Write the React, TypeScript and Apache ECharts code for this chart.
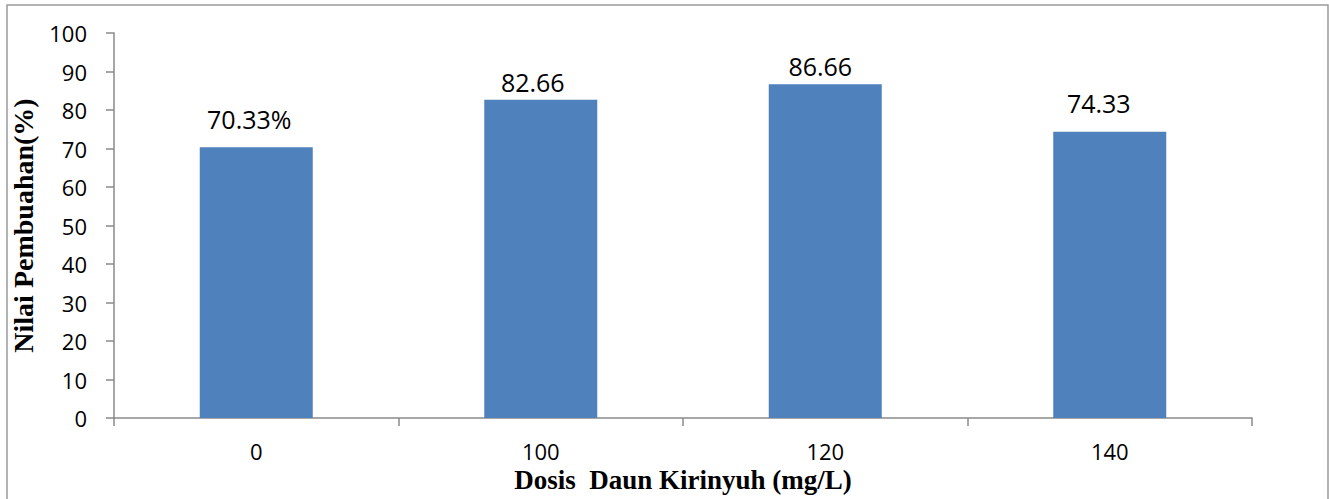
import React, { useEffect, useRef } from "react";
import * as echarts from "echarts";

const categories = ["0", "100", "120", "140"];
const values = [70.33, 82.66, 86.66, 74.33];
const labelTexts = ["70.33%", "82.66", "86.66", "74.33"];
const labelDistances = [16, 5, 6, 16];
const labelShiftX = [-7, -8, -5, -11];
const yTicks = { min: 0, max: 100, interval: 10 };
const xTitle = "Dosis  Daun Kirinyuh (mg/L)";
const yTitle = "Nilai Pembuahan(%)";

const sans = "'Open Sans', 'Noto Sans', sans-serif";
const serif = "'Liberation Serif', 'Times New Roman', serif";
const axisGray = "#8a8a8a";

export default function App() {
  const ref = useRef<HTMLDivElement>(null);
  useEffect(() => {
    if (!ref.current) return;
    const chart = echarts.init(ref.current, undefined, { renderer: "svg" });
    chart.setOption({
      animation: false,
      backgroundColor: "#ffffff",
      graphic: [
        {
          type: "rect",
          shape: { x: 7, y: 5, width: 1321, height: 520 },
          style: { fill: "none", stroke: "#9a9a9a", lineWidth: 1.5 },
          silent: true,
          z: -1,
        },
      ],
      grid: { left: 114, right: 77, top: 33, bottom: 81, containLabel: false },
      xAxis: {
        type: "category",
        data: categories,
        name: xTitle,
        nameLocation: "middle",
        nameGap: 48,
        nameTextStyle: { fontFamily: serif, fontWeight: "bold", fontSize: 27, color: "#000" },
        axisLine: { show: true, lineStyle: { color: axisGray, width: 1.5 } },
        axisTick: { show: true, alignWithLabel: false, interval: 0, length: 8, lineStyle: { color: axisGray, width: 1.5 } },
        axisLabel: { fontFamily: sans, fontSize: 22, color: "#000", margin: 22 },
        splitLine: { show: false },
      },
      yAxis: {
        type: "value",
        min: yTicks.min,
        max: yTicks.max,
        interval: yTicks.interval,
        name: yTitle,
        nameLocation: "middle",
        nameRotate: 90,
        nameGap: 77,
        nameTextStyle: { fontFamily: serif, fontWeight: "bold", fontSize: 28, color: "#000" },
        axisLine: { show: true, lineStyle: { color: axisGray, width: 1.5 } },
        axisTick: { show: true, length: 8, lineStyle: { color: axisGray, width: 1.5 } },
        axisLabel: { fontFamily: sans, fontSize: 22, color: "#000", margin: 27 },
        splitLine: { show: false },
      },
      series: [
        {
          type: "bar",
          barWidth: 113,
          itemStyle: { color: "#4F81BD" },
          data: values.map((v, i) => ({
            value: v,
            label: {
              show: true,
              position: "top",
              distance: labelDistances[i],
              offset: [labelShiftX[i], 0],
              formatter: labelTexts[i],
              fontFamily: sans,
              fontSize: 25,
              color: "#000",
            },
          })),
        },
      ],
    });
    return () => chart.dispose();
  }, []);
  return (
    <div
      ref={ref}
      style={{ position: "absolute", left: 0, top: 0, width: 1329, height: 499 }}
    />
  );
}
